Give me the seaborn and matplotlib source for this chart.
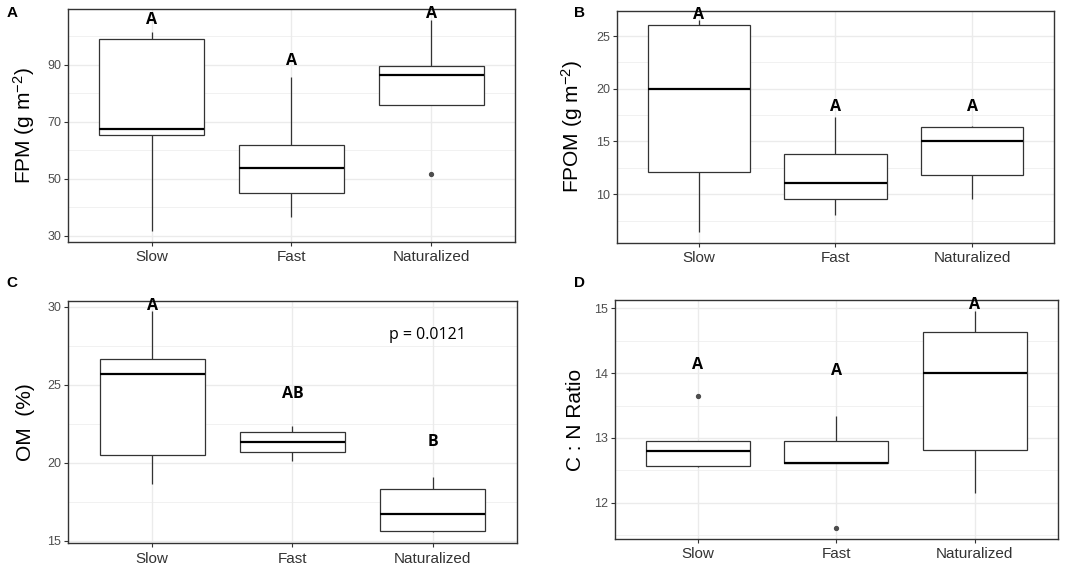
import pandas as pd
import matplotlib
matplotlib.use('Agg')
import matplotlib.pyplot as plt
import seaborn as sns

cats = ['Slow', 'Fast', 'Naturalized']

# values (min, q1, median, q3, max / outlier)
fpm_slow = [31.6, 65.3, 67.3, 99.0, 101.4]
fpm_fast = [36.5, 45.1, 53.9, 61.8, 85.8]
fpm_nat = [51.7, 75.9, 86.4, 89.4, 105.8]

fpom_slow = [6.4, 12.1, 20.0, 26.05, 26.55]
fpom_fast = [8.0, 9.55, 11.1, 13.8, 17.3]
fpom_nat = [9.5, 11.85, 15.0, 16.35, 16.45]

om_slow = [18.64, 20.5, 25.7, 26.66, 29.75]
om_fast = [20.1, 20.68, 21.36, 22.0, 22.4]
om_nat = [15.55, 15.64, 16.7, 18.34, 19.13]

cn_slow = [12.55, 12.56, 12.80, 12.95, 13.65]
cn_fast = [11.61, 12.61, 12.61, 12.95, 13.34]
cn_nat = [12.15, 12.81, 14.0, 14.63, 14.96]

# significance letters and their heights
fpm_letters = ['A', 'A', 'A']
fpm_letter_y = [105.8, 91.2, 107.9]
fpom_letters = ['A', 'A', 'A']
fpom_letter_y = [27.0, 18.25, 18.25]
om_letters = ['A', 'AB', 'B']
om_letter_y = [30.06, 24.4, 21.34]
cn_letters = ['A', 'A', 'A']
cn_letter_y = [14.13, 14.04, 15.06]

fpm_ticks = [30, 50, 70, 90]
fpom_ticks = [10, 15, 20, 25]
om_ticks = [15, 20, 25, 30]
cn_ticks = [12, 13, 14, 15]

sns.set_style('ticks')
plt.rcParams['font.family'] = ['Liberation Sans', 'DejaVu Sans']
plt.rcParams['text.color'] = 'black'
plt.rcParams['mathtext.fontset'] = 'custom'
plt.rcParams['mathtext.rm'] = 'Liberation Sans'
plt.rcParams['mathtext.it'] = 'Liberation Sans'


def long_df(slow, fast, nat):
    rows = []
    for name, vals in zip(cats, [slow, fast, nat]):
        for v in vals:
            rows.append({'group': name, 'value': v})
    return pd.DataFrame(rows)


def draw_panel(ax, df, ticks, ylim, ylabel, letters, letter_y, label_x):
    sns.boxplot(data=df, x='group', y='value', order=cats, ax=ax,
                color='white', linecolor='#333333', linewidth=0.9,
                width=0.75, showcaps=False, saturation=1,
                medianprops=dict(color='black', linewidth=1.6),
                flierprops=dict(marker='o', markerfacecolor='#4D4D4D',
                                markeredgecolor='#4D4D4D', markersize=2.8))
    ax.set_xlim(-0.6, 2.6)
    ax.set_ylim(*ylim)
    ax.set_yticks(ticks)
    step = ticks[1] - ticks[0]
    minor = [t + step / 2 for t in [ticks[0] - step] + ticks]
    ax.set_yticks([m for m in minor if ylim[0] < m < ylim[1]], minor=True)
    ax.set_axisbelow(True)
    ax.grid(which='major', color='#EBEBEB', linewidth=1.0)
    ax.grid(which='minor', axis='y', color='#EBEBEB', linewidth=0.5)
    ax.xaxis.grid(True, color='#EBEBEB', linewidth=1.0)
    ax.tick_params(which='minor', length=0)
    ax.tick_params(axis='y', labelsize=9, labelcolor='#4D4D4D',
                   color='#333333', length=3, width=0.8, pad=2)
    ax.tick_params(axis='x', labelsize=11, labelcolor='#333333',
                   color='#333333', length=3, width=0.8, pad=3)
    for s in ax.spines.values():
        s.set_color('#333333')
        s.set_linewidth(1.0)
    ax.set_xlabel('')
    ax.set_ylabel(ylabel, fontsize=15, color='black')
    ax.yaxis.set_label_coords(label_x, 0.5)
    for i, (txt, y) in enumerate(zip(letters, letter_y)):
        ax.text(i, y, txt, ha='center', va='center', fontsize=11.5,
                fontweight='bold', color='black',
                family=['Open Sans', 'DejaVu Sans'])


fig = plt.figure(figsize=(10.84, 5.85), dpi=100)
ax_a = fig.add_axes([0.0627, 0.5863, 0.4124, 0.3978])
ax_b = fig.add_axes([0.5692, 0.5851, 0.4031, 0.3966])
ax_c = fig.add_axes([0.0627, 0.0713, 0.4142, 0.4147])
ax_d = fig.add_axes([0.5671, 0.0786, 0.4089, 0.4085])

draw_panel(ax_a, long_df(fpm_slow, fpm_fast, fpm_nat), fpm_ticks,
           (27.8, 109.4), r'FPM (g m$^{-2}$)', fpm_letters, fpm_letter_y, -0.07)
draw_panel(ax_b, long_df(fpom_slow, fpom_fast, fpom_nat), fpom_ticks,
           (5.4, 27.4), r'FPOM (g m$^{-2}$)', fpom_letters, fpom_letter_y, -0.073)
draw_panel(ax_c, long_df(om_slow, om_fast, om_nat), om_ticks,
           (14.85, 30.4), 'OM  (%)', om_letters, om_letter_y, -0.074)
draw_panel(ax_d, long_df(cn_slow, cn_fast, cn_nat), cn_ticks,
           (11.44, 15.13), 'C : N Ratio', cn_letters, cn_letter_y, -0.066)

ax_c.text(0.8, 0.86, 'p = 0.0121', transform=ax_c.transAxes, ha='center',
          va='center', fontsize=11.5, color='black',
          family=['Open Sans', 'DejaVu Sans'])

for x, y, txt in [(0.011, 0.977, 'A'), (0.535, 0.977, 'B'),
                  (0.011, 0.516, 'C'), (0.535, 0.516, 'D')]:
    fig.text(x, y, txt, fontsize=11, fontweight='bold', color='black',
             ha='center', va='center')

fig.savefig('out.png', dpi=100, facecolor='white')
